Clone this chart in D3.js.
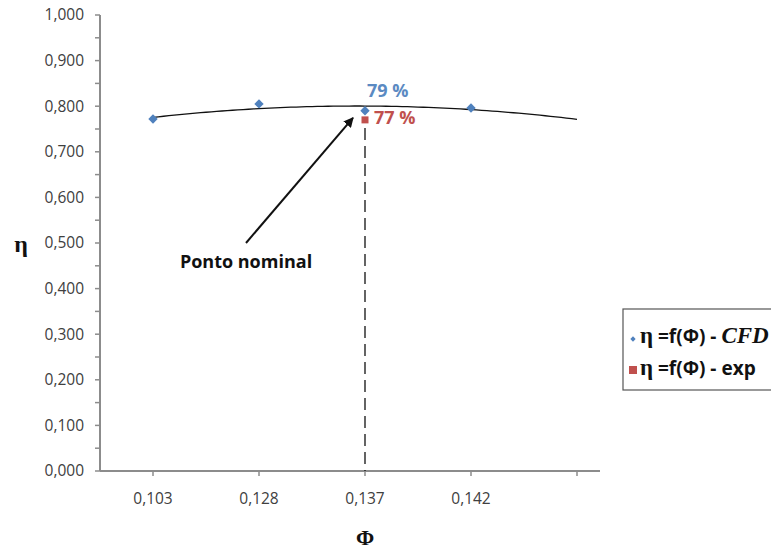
<!DOCTYPE html>
<html>
<head>
<meta charset="utf-8">
<script src="https://cdn.jsdelivr.net/npm/d3@7"></script>
<style>
  html, body { margin: 0; padding: 0; background: #fff; }
  svg { display: block; }
</style>
</head>
<body>
<svg id="chart" width="771" height="549"></svg>
<script>
// Flow coefficient categories (the last slot is left blank for the trend forecast)
const categories = ["0,103", "0,128", "0,137", "0,142", ""];
// Efficiency from CFD
const cfdValues = [0.772, 0.805, 0.79, 0.796];
// Experimental efficiency at the nominal point
const expCategories = ["0,137"];
const expValues = [0.77];
const yTicks = [0, 0.1, 0.2, 0.3, 0.4, 0.5, 0.6, 0.7, 0.8, 0.9, 1.0];

const blue = "#4f81bd", red = "#c0504d", axisGrey = "#8c8c8c", textGrey = "#404040";
const sans = "'Open Sans', 'Liberation Sans', sans-serif";
const serif = "'Liberation Serif', 'DejaVu Serif', serif";

const pt = d3.formatLocale({ decimal: ",", thousands: ".", grouping: [3], currency: ["", ""] });
const fmt3 = pt.format(".3f");

const svg = d3.select("#chart");
const plot = { left: 100, top: 15, bottom: 471, axisEnd: 600 };

const x = d3.scaleBand().domain(categories).range([plot.left, plot.left + 530]).padding(0);
const cx = c => x(c) + x.bandwidth() / 2;
const y = d3.scaleLinear().domain([0, 1]).range([plot.bottom, plot.top]);

// Y axis: line, major and minor ticks, labels
const yAxis = svg.append("g");
yAxis.append("line").attr("x1", plot.left).attr("x2", plot.left)
  .attr("y1", y(1)).attr("y2", y(0)).attr("stroke", axisGrey).attr("stroke-width", 2);
d3.range(0, 1.0001, 0.05).forEach(v => {
  yAxis.append("line").attr("x1", plot.left - 5).attr("x2", plot.left)
    .attr("y1", y(v)).attr("y2", y(v)).attr("stroke", axisGrey).attr("stroke-width", 1.5);
});
yAxis.selectAll("text").data(yTicks).join("text")
  .attr("x", plot.left - 16).attr("y", d => y(d)).attr("dy", "0.35em")
  .attr("text-anchor", "end").attr("font-family", sans).attr("font-size", 15.5)
  .attr("fill", textGrey).text(d => fmt3(d));

// X axis: line, ticks at category centres, labels
const xAxis = svg.append("g");
xAxis.append("line").attr("x1", plot.left).attr("x2", plot.axisEnd)
  .attr("y1", y(0)).attr("y2", y(0)).attr("stroke", axisGrey).attr("stroke-width", 2);
categories.forEach(c => {
  xAxis.append("line").attr("x1", cx(c)).attr("x2", cx(c))
    .attr("y1", y(0)).attr("y2", y(0) + 5).attr("stroke", axisGrey).attr("stroke-width", 1.5);
});
xAxis.selectAll("text").data(categories).join("text")
  .attr("x", d => cx(d)).attr("y", y(0) + 28).attr("dy", "0.35em")
  .attr("text-anchor", "middle").attr("font-family", sans).attr("font-size", 15.5)
  .attr("fill", textGrey).text(d => d);

// Axis titles
svg.append("text").attr("x", cx("0,137")).attr("y", 537).attr("dy", "0.35em")
  .attr("text-anchor", "middle").attr("font-family", serif).attr("font-weight", "bold")
  .attr("font-size", 22).attr("fill", "#111").text("Φ");
svg.append("text").attr("x", 21).attr("y", 244).attr("dy", "0.35em")
  .attr("text-anchor", "middle").attr("font-family", serif).attr("font-weight", "bold")
  .attr("font-size", 24).attr("fill", "#111").text("η");

// Second-order polynomial trend of the CFD series, extended one period forward
const xs = cfdValues.map((_, i) => i + 1);
function polyFit2(xv, yv) {
  const n = xv.length;
  const S = k => d3.sum(xv, t => Math.pow(t, k));
  const T = k => d3.sum(xv, (t, i) => Math.pow(t, k) * yv[i]);
  const A = [[n, S(1), S(2)], [S(1), S(2), S(3)], [S(2), S(3), S(4)]];
  const B = [T(0), T(1), T(2)];
  for (let i = 0; i < 3; i++) {
    for (let j = i + 1; j < 3; j++) {
      const f = A[j][i] / A[i][i];
      for (let k = i; k < 3; k++) A[j][k] -= f * A[i][k];
      B[j] -= f * B[i];
    }
  }
  const c = [0, 0, 0];
  for (let i = 2; i >= 0; i--) {
    let s = B[i];
    for (let k = i + 1; k < 3; k++) s -= A[i][k] * c[k];
    c[i] = s / A[i][i];
  }
  return t => c[0] + c[1] * t + c[2] * t * t;
}
const trend = polyFit2(xs, cfdValues);
const xIdx = d3.scaleLinear().domain([1, categories.length])
  .range([cx(categories[0]), cx(categories[categories.length - 1])]);
const trendPts = d3.range(1, categories.length + 0.001, 0.05).map(t => [xIdx(t), y(trend(t))]);
svg.append("path").attr("d", d3.line()(trendPts))
  .attr("fill", "none").attr("stroke", "#111").attr("stroke-width", 1.3);

// Dashed drop line at the nominal point
const nomX = cx(expCategories[0]);
svg.append("line").attr("x1", nomX).attr("x2", nomX)
  .attr("y1", y(expValues[0]) + 8).attr("y2", y(0))
  .attr("stroke", "#111").attr("stroke-width", 1.3).attr("stroke-dasharray", "12,6");

// CFD markers (diamonds)
const diamond = d3.symbol().type(d3.symbolSquare).size(44);
svg.append("g").selectAll("path").data(cfdValues).join("path")
  .attr("transform", (d, i) => `translate(${cx(categories[i])},${y(d)}) rotate(45)`)
  .attr("d", diamond).attr("fill", blue);

// Experimental marker (square)
svg.append("g").selectAll("rect").data(expValues).join("rect")
  .attr("x", (d, i) => cx(expCategories[i]) - 3.5).attr("y", d => y(d) - 3.5)
  .attr("width", 7).attr("height", 7).attr("fill", red);

// Value labels
const pct = v => d3.format(".0f")(v * 100) + " %";
const cfdNom = cfdValues[categories.indexOf("0,137")];
svg.append("text").attr("x", nomX + 2).attr("y", y(cfdNom) - 20).attr("dy", "0.35em")
  .attr("font-family", sans).attr("font-weight", "bold").attr("font-size", 18)
  .attr("fill", "#5b8ac2").text(pct(cfdNom));
svg.append("text").attr("x", nomX + 9).attr("y", y(expValues[0]) - 2).attr("dy", "0.35em")
  .attr("font-family", sans).attr("font-weight", "bold").attr("font-size", 18)
  .attr("fill", red).text(pct(expValues[0]));

// Annotation arrow and text
const defs = svg.append("defs");
defs.append("marker").attr("id", "arrowhead").attr("viewBox", "0 0 10 10")
  .attr("refX", 9).attr("refY", 5).attr("markerWidth", 5).attr("markerHeight", 5)
  .attr("orient", "auto")
  .append("path").attr("d", "M0,0 L10,5 L0,10 z").attr("fill", "#111");
svg.append("line").attr("x1", 246).attr("y1", 243)
  .attr("x2", nomX - 12).attr("y2", y(expValues[0]) - 2)
  .attr("stroke", "#111").attr("stroke-width", 2).attr("marker-end", "url(#arrowhead)");
svg.append("text").attr("x", 246).attr("y", 262).attr("dy", "0.35em")
  .attr("text-anchor", "middle").attr("font-family", sans).attr("font-weight", "bold")
  .attr("font-size", 18).attr("fill", "#111").text("Ponto nominal");

// Legend
const lg = svg.append("g");
lg.append("rect").attr("x", 623).attr("y", 309).attr("width", 160).attr("height", 81)
  .attr("fill", "#fff").attr("stroke", "#555").attr("stroke-width", 1.2);
lg.append("path").attr("transform", "translate(633,339) rotate(45)")
  .attr("d", d3.symbol().type(d3.symbolSquare).size(14)).attr("fill", blue);
lg.append("rect").attr("x", 629).attr("y", 366).attr("width", 8).attr("height", 8).attr("fill", red);

function legendLabel(yPos, tail, tailItalicSerif) {
  const t = lg.append("text").attr("x", 640).attr("y", yPos).attr("dy", "0.35em")
    .attr("font-weight", "bold").attr("fill", "#111");
  t.append("tspan").attr("font-family", serif).attr("font-size", 23).text("η");
  t.append("tspan").attr("font-family", sans).attr("font-size", 19).text(" =f(Φ) - ");
  t.append("tspan")
    .attr("font-family", tailItalicSerif ? serif : sans)
    .attr("font-style", tailItalicSerif ? "italic" : "normal")
    .attr("font-size", tailItalicSerif ? 23 : 19).text(tail);
}
legendLabel(337, "CFD", true);
legendLabel(369, "exp", false);
</script>
</body>
</html>
